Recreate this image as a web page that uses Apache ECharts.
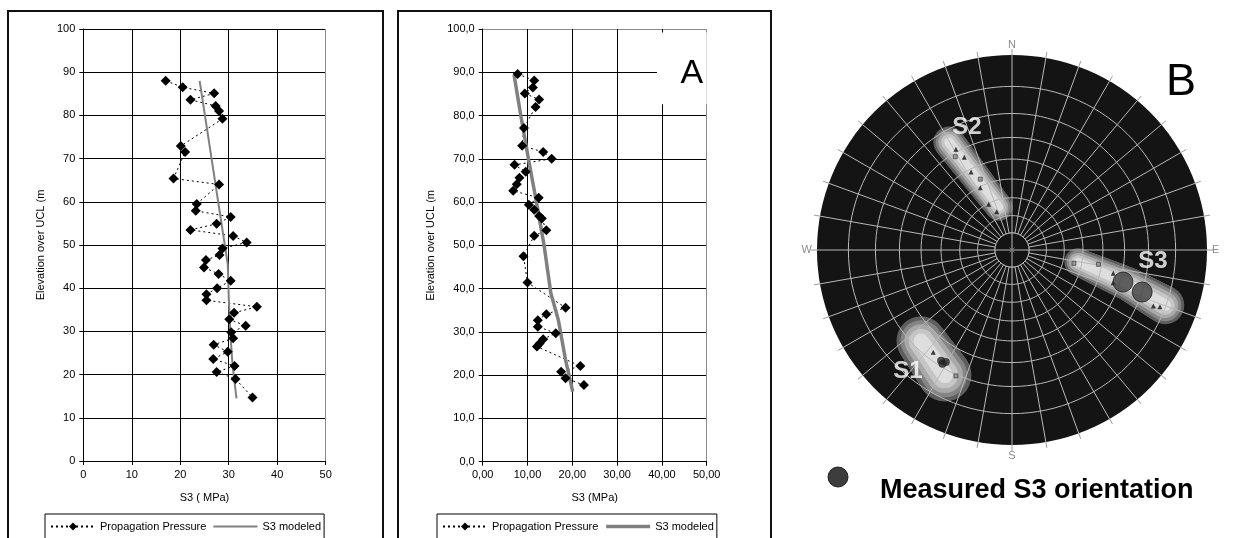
<!DOCTYPE html>
<html>
<head>
<meta charset="utf-8">
<script src="https://cdn.jsdelivr.net/npm/echarts@6/dist/echarts.min.js"></script>
<style>
  html, body { margin: 0; padding: 0; background: #fff; width: 1259px; height: 538px; overflow: hidden; }
  .chart { position: absolute; top: 0; height: 538px; }
  #profile1 { left: 0; width: 390px; }
  #profile2 { left: 390px; width: 400px; }
  #stereonet { left: 790px; width: 469px; }
  .frame { position: absolute; border: 2px solid #111; box-sizing: border-box; pointer-events: none; }
</style>
</head>
<body>
<div id="profile1" class="chart"></div>
<div id="profile2" class="chart"></div>
<div id="stereonet" class="chart"></div>
<div class="frame" style="left:7px;top:10px;width:377px;height:560px"></div>
<div class="frame" style="left:397px;top:10px;width:375px;height:560px"></div>
<script>
const FONT = "'Liberation Sans', Arial, sans-serif";
const SERIES_NAMES = ['Propagation Pressure', 'S3 modeled'];

// ---- Profile 1: propagation pressure vs elevation ----
const P1_S3 = [17.0, 20.5, 27.0, 22.1, 27.3, 28.0, 28.7, 20.1, 21.0, 18.6, 28.0,
  23.4, 23.2, 30.4, 27.5, 22.1, 30.9, 33.7, 28.7, 28.1, 25.3, 24.9, 27.9, 30.4,
  27.6, 25.4, 25.4, 35.8, 31.1, 30.1, 33.5, 30.5, 30.9, 26.9, 29.8, 26.8, 31.2,
  27.5, 31.4, 34.9];
const P1_ELEV = [88.0, 86.5, 85.1, 83.6, 82.2, 81.0, 79.2, 72.9, 71.5, 65.4, 64.0,
  59.5, 57.9, 56.5, 54.9, 53.5, 52.1, 50.6, 49.2, 47.7, 46.5, 44.8, 43.3, 41.7,
  40.0, 38.6, 37.2, 35.7, 34.3, 32.8, 31.3, 29.8, 28.4, 26.9, 25.3, 23.6, 22.0,
  20.6, 19.0, 14.7];
const P1_MODEL_S3 = [24.0, 29.8, 30.0, 30.3, 30.8, 31.6];
const P1_MODEL_ELEV = [88.0, 45.5, 38.0, 30.0, 22.0, 14.5];

// ---- Profile 2 (A) ----
const P2_S3 = [7.8, 11.5, 11.2, 9.4, 12.6, 11.8, 9.2, 8.8, 13.5, 15.4, 7.1, 9.6,
  8.2, 7.6, 6.8, 12.5, 10.3, 11.5, 12.6, 13.2, 14.2, 11.5, 9.1, 10.0, 18.5, 14.2,
  12.3, 12.3, 16.3, 13.5, 12.7, 12.1, 21.8, 17.5, 18.5, 22.6];
const P2_ELEV = [89.6, 88.1, 86.5, 85.1, 83.7, 82.0, 77.1, 73.0, 71.6, 70.0, 68.6,
  67.0, 65.6, 64.1, 62.6, 61.0, 59.4, 58.2, 56.8, 56.2, 53.5, 52.2, 47.5, 41.4,
  35.6, 34.1, 32.7, 31.2, 29.7, 28.3, 27.3, 26.6, 22.1, 20.8, 19.3, 17.7];
const P2_MODEL_S3 = [7.0, 8.5, 10.2, 12.0, 13.7, 15.2, 16.9, 18.5, 20.1];
const P2_MODEL_ELEV = [89.4, 80.0, 70.0, 60.0, 50.0, 39.0, 32.7, 23.5, 16.2];

// ---- Stereonet (B): lower hemisphere, equal-angle polar net ----
const NET_PLUNGES = [10, 20, 30, 40, 50, 60, 70, 80];
const CARDINAL_LABELS = { 0: 'N', 90: 'E', 180: 'S', 270: 'W' };
const CLUSTER_NAMES = ['S1', 'S2', 'S3'];
// density cluster spines: trend / plunge (deg) and spread (projected radius units)
const CLUSTER_TREND = [[225.0, 208.2], [329.7, 343.2], [100.3, 106.3, 109.8]];
const CLUSTER_PLUNGE = [[23.2, 17.9], [24.7, 64.1], [52.0, 26.4, 10.3]];
const CLUSTER_SPREAD = [[0.126, 0.136], [0.080, 0.070], [0.070, 0.086, 0.098]];
const CLUSTER_LABEL_TREND = [220.7, 339.9, 94.5];
const CLUSTER_LABEL_PLUNGE = [11.4, 22.2, 18.1];
// individual poles
const TRIANGLE_TREND = [330.9, 332.8, 332.3, 333.0, 333.0, 338.2, 103.0, 107.9, 111.6, 111.0, 217.6];
const TRIANGLE_PLUNGE = [28.8, 33.7, 41.4, 50.6, 60.5, 66.1, 33.9, 32.8, 14.1, 11.8, 23.0];
const SQUARE_TREND = [328.7, 335.9, 102.1, 99.4, 204.0];
const SQUARE_PLUNGE = [31.5, 46.6, 54.0, 41.6, 19.5];
const DARK_TREND = [210.6, 212.6, 211.4];
const DARK_PLUNGE = [22.6, 22.0, 21.3];
const MEASURED_S3_TREND = [106.1, 107.9];
const MEASURED_S3_PLUNGE = [28.7, 19.9];

// stereographic projection: plunge -> normalised radius
const stereo = p => Math.tan((90 - p) / 2 * Math.PI / 180);

function profileOption(cfg) {
  const pts = cfg.s3.map((v, i) => [v, cfg.elev[i]]);
  const model = cfg.modelS3.map((v, i) => [v, cfg.modelElev[i]]);
  const label = { color: '#000', fontFamily: FONT, fontSize: 11 };
  const axisBase = {
    type: 'value',
    axisLine: { show: true, lineStyle: { color: '#000', width: 1 } },
    axisTick: { show: true, inside: false, length: 4, lineStyle: { color: '#000' } },
    nameLocation: 'middle',
    nameTextStyle: { color: '#000', fontFamily: FONT, fontSize: 11 }
  };
  const propSeries = {
    name: SERIES_NAMES[0], type: 'line', data: pts,
    symbol: 'diamond', symbolSize: 10, showSymbol: true,
    lineStyle: { color: '#000', width: 1, type: [2, 3] },
    itemStyle: { color: '#000' }
  };
  if (cfg.tag) {
    propSeries.markArea = {
      silent: true,
      itemStyle: { color: '#fff', borderWidth: 0 },
      label: { show: true, position: 'inside', formatter: cfg.tag, color: '#000',
               fontFamily: FONT, fontSize: 34, offset: [10, 5] },
      data: [[{ coord: cfg.tagFrom }, { coord: cfg.tagTo }]]
    };
  }
  return {
    animation: false,
    grid: { left: cfg.grid[0], top: 29, width: cfg.grid[1], height: cfg.grid[2] },
    xAxis: Object.assign({}, axisBase, {
      min: 0, max: 50, interval: 10,
      name: cfg.xName, nameGap: 31,
      axisLabel: Object.assign({}, label, { margin: 8, formatter: cfg.xFmt }),
      splitLine: { show: true, lineStyle: { color: cfg.xLineColors, width: 1 } }
    }),
    yAxis: Object.assign({}, axisBase, {
      min: 0, max: 100, interval: 10,
      name: 'Elevation over UCL (m', nameGap: cfg.yNameGap,
      axisLabel: Object.assign({}, label, { margin: 8, formatter: cfg.yFmt }),
      splitLine: { show: true, lineStyle: { color: cfg.yLineColors, width: 1 } }
    }),
    legend: {
      left: cfg.legendLeft, top: 514, orient: 'horizontal',
      data: [
        { name: SERIES_NAMES[0] },
        { name: SERIES_NAMES[1], itemStyle: { opacity: 0 },
          lineStyle: { width: cfg.modelWidth, color: '#808080' } }
      ],
      itemWidth: 44, itemHeight: 10, itemGap: 6, padding: [7, 3, 9, 5],
      borderColor: '#000', borderWidth: 1, selectedMode: false,
      textStyle: { color: '#000', fontFamily: FONT, fontSize: 11 }
    },
    series: [
      propSeries,
      { name: SERIES_NAMES[1], type: 'line', data: model, symbol: 'none',
        lineStyle: { color: '#808080', width: cfg.modelWidth }, itemStyle: { color: '#808080' } }
    ]
  };
}

const black = '#000', soft = '#8c8c8c';
echarts.init(document.getElementById('profile1'), null, { renderer: 'canvas' }).setOption(profileOption({
  s3: P1_S3, elev: P1_ELEV, modelS3: P1_MODEL_S3, modelElev: P1_MODEL_ELEV,
  grid: [83.3, 242.4, 432], xName: 'S3 ( MPa)', yNameGap: 34, modelWidth: 2,
  xFmt: v => String(v), yFmt: v => String(v),
  xLineColors: [black, black, black, black, black, soft],
  yLineColors: [black],
  legendLeft: 45
}));

echarts.init(document.getElementById('profile2'), null, { renderer: 'canvas' }).setOption(profileOption({
  s3: P2_S3, elev: P2_ELEV, modelS3: P2_MODEL_S3, modelElev: P2_MODEL_ELEV,
  grid: [92.7, 224, 432.7], xName: 'S3 (MPa)', yNameGap: 43, modelWidth: 3.5,
  xFmt: v => v.toFixed(2).replace('.', ','), yFmt: v => v.toFixed(1).replace('.', ','),
  xLineColors: [black, black, black, black, black, soft],
  yLineColors: [black, black, black, black, black, black, black, black, black, black, soft],
  legendLeft: 47,
  tag: 'A', tagFrom: [38.9, 82.6], tagTo: [50, 99.2]
}));

// ---- Stereonet ----
const NET_COLOR = '#b8b8b8';
const DISK_COLOR = '#141414';
const BLOB_LEVELS = [
  { k: 1.00, color: '#5e5e5e' },
  { k: 0.84, color: '#858585' },
  { k: 0.68, color: '#a9a9a9' },
  { k: 0.50, color: '#c6c6c6' },
  { k: 0.30, color: '#dedede' }
];

function polarUnit(api) {
  const c = api.coord([0, 0]);
  const e = api.coord([1, 0]);
  return { c, unit: Math.hypot(e[0] - c[0], e[1] - c[1]) };
}

const toPolar = (trends, plunges) => trends.map((t, i) => [stereo(plunges[i]), t]);

const netOption = {
  animation: false,
  polar: { center: [222, 250], radius: 195 },
  angleAxis: {
    type: 'value', min: 0, max: 360, interval: 10, startAngle: 90, clockwise: true, z: 5,
    axisLine: { show: false },
    axisTick: { show: true, inside: false, length: 6, lineStyle: { color: '#9a9a9a' } },
    axisLabel: { show: true, margin: 5, color: '#8a8a8a', fontSize: 11, fontFamily: FONT,
                 formatter: v => CARDINAL_LABELS[v] || '' },
    splitLine: { show: true, lineStyle: { color: NET_COLOR, width: 1 } },
    splitArea: { show: false }
  },
  radiusAxis: {
    type: 'value', min: 0, max: 1,
    axisLine: { show: false }, axisTick: { show: false },
    axisLabel: { show: false }, splitLine: { show: false }
  },
  graphic: [
    { type: 'circle', shape: { cx: 48, cy: 477, r: 10 }, style: { fill: '#3d3d3d', stroke: '#1e1e1e', lineWidth: 1 } },
    { type: 'text', x: 90, y: 490.5, style: { text: 'Measured S3 orientation', fill: '#000',
        fontFamily: FONT, fontSize: 27, fontWeight: 'bold', align: 'left', verticalAlign: 'middle' } },
    { type: 'text', x: 391, y: 83, style: { text: 'B', fill: '#000', fontFamily: FONT,
        fontSize: 45, align: 'center', verticalAlign: 'middle' } }
  ],
  series: [
    { // primitive disk
      type: 'custom', coordinateSystem: 'polar', z: 1, silent: true, data: [[1, 0]],
      renderItem: (params, api) => {
        const { c, unit } = polarUnit(api);
        return { type: 'circle', shape: { cx: c[0], cy: c[1], r: unit }, style: { fill: DISK_COLOR } };
      }
    },
    { // density contours of the three clusters
      type: 'custom', coordinateSystem: 'polar', z: 2, silent: true,
      data: CLUSTER_NAMES.map((n, i) => [stereo(CLUSTER_PLUNGE[i][0]), CLUSTER_TREND[i][0], i]),
      renderItem: (params, api) => {
        const i = api.value(2);
        const { unit } = polarUnit(api);
        const nodes = CLUSTER_TREND[i].map((t, j) => {
          const p = api.coord([stereo(CLUSTER_PLUNGE[i][j]), t]);
          return { x: p[0], y: p[1], w: CLUSTER_SPREAD[i][j] * unit };
        });
        const samples = [];
        for (let j = 0; j < nodes.length - 1; j++) {
          const a = nodes[j], b = nodes[j + 1];
          const n = Math.max(1, Math.ceil(Math.hypot(b.x - a.x, b.y - a.y) / 1.5));
          for (let s = 0; s < n; s++) {
            const t = s / n;
            samples.push({ x: a.x + (b.x - a.x) * t, y: a.y + (b.y - a.y) * t, w: a.w + (b.w - a.w) * t });
          }
        }
        samples.push(nodes[nodes.length - 1]);
        const children = [];
        BLOB_LEVELS.forEach(l => samples.forEach(s => children.push({
          type: 'circle', shape: { cx: s.x, cy: s.y, r: s.w * l.k }, style: { fill: l.color }
        })));
        return { type: 'group', children };
      }
    },
    { // small circles of equal plunge
      type: 'custom', coordinateSystem: 'polar', z: 6, silent: true,
      data: NET_PLUNGES.map(p => [stereo(p), 0]),
      renderItem: (params, api) => {
        const r = api.value(0);
        const pts = [];
        for (let a = 0; a <= 360; a += 3) pts.push(api.coord([r, a]));
        return { type: 'polyline', shape: { points: pts }, style: { stroke: NET_COLOR, lineWidth: 1, fill: 'none' } };
      }
    },
    { // centre: innermost circle with the cardinal cross
      type: 'custom', coordinateSystem: 'polar', z: 7, silent: true,
      data: [[stereo(NET_PLUNGES[NET_PLUNGES.length - 1]), 0]],
      renderItem: (params, api) => {
        const r = api.value(0);
        const { c, unit } = polarUnit(api);
        const children = [{ type: 'circle', shape: { cx: c[0], cy: c[1], r: r * unit },
                            style: { fill: DISK_COLOR, stroke: NET_COLOR, lineWidth: 1 } }];
        [0, 90, 180, 270].forEach(a => {
          const p = api.coord([r, a]);
          children.push({ type: 'line', shape: { x1: c[0], y1: c[1], x2: p[0], y2: p[1] },
                          style: { stroke: NET_COLOR, lineWidth: 1 } });
        });
        const d = 2.5;
        children.push({ type: 'line', shape: { x1: c[0] - d, y1: c[1] - d, x2: c[0] + d, y2: c[1] + d }, style: { stroke: '#777', lineWidth: 1 } });
        children.push({ type: 'line', shape: { x1: c[0] - d, y1: c[1] + d, x2: c[0] + d, y2: c[1] - d }, style: { stroke: '#777', lineWidth: 1 } });
        return { type: 'group', children };
      }
    },
    { type: 'scatter', coordinateSystem: 'polar', z: 8, silent: true,
      data: toPolar(DARK_TREND, DARK_PLUNGE), symbol: 'circle', symbolSize: 8,
      itemStyle: { color: '#262626' } },
    { type: 'scatter', coordinateSystem: 'polar', z: 8, silent: true,
      data: toPolar(TRIANGLE_TREND, TRIANGLE_PLUNGE), symbol: 'triangle', symbolSize: 5,
      itemStyle: { color: '#111' } },
    { type: 'scatter', coordinateSystem: 'polar', z: 8, silent: true,
      data: toPolar(SQUARE_TREND, SQUARE_PLUNGE), symbol: 'rect', symbolSize: 4,
      itemStyle: { color: '#8a8a8a', borderColor: '#333', borderWidth: 0.8 } },
    { name: 'Measured S3 orientation', type: 'scatter', coordinateSystem: 'polar', z: 9, silent: true,
      data: toPolar(MEASURED_S3_TREND, MEASURED_S3_PLUNGE), symbol: 'circle', symbolSize: 20,
      itemStyle: { color: '#3d3d3d', borderColor: '#1e1e1e', borderWidth: 1 } },
    { type: 'scatter', coordinateSystem: 'polar', z: 10, silent: true,
      data: CLUSTER_NAMES.map((n, i) => ({ name: n, value: [stereo(CLUSTER_LABEL_PLUNGE[i]), CLUSTER_LABEL_TREND[i]] })),
      symbolSize: 1, itemStyle: { color: 'rgba(0,0,0,0)' },
      label: { show: true, position: 'inside', formatter: '{b}', color: '#fff',
               fontFamily: FONT, fontSize: 24, fontWeight: 'bold' } }
  ]
};
echarts.init(document.getElementById('stereonet'), null, { renderer: 'canvas' }).setOption(netOption);
</script>
</body>
</html>
